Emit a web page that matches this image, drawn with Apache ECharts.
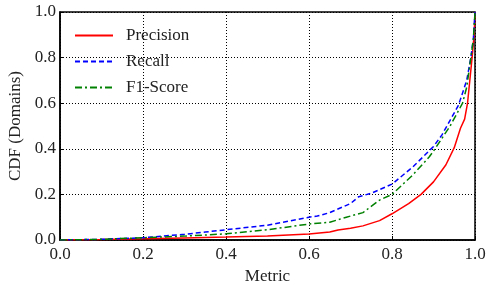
<!DOCTYPE html>
<html><head><meta charset="utf-8">
<script src="https://cdn.jsdelivr.net/npm/echarts@6/dist/echarts.min.js"></script>
<style>html,body{margin:0;padding:0;background:#fff}#c{width:486px;height:285px}</style>
</head><body><div id="c"></div>
<script>
const seriesNames = ['Precision', 'Recall', 'F1-Score'];
const precision = [[0,0],[0.1,0.002],[0.2,0.005],[0.3,0.009],[0.4,0.013],[0.5,0.018],[0.6,0.026],[0.65,0.035],[0.67,0.044],[0.7,0.052],[0.73,0.062],[0.77,0.085],[0.8,0.115],[0.84,0.16],[0.87,0.2],[0.9,0.255],[0.93,0.33],[0.95,0.405],[0.965,0.49],[0.975,0.53],[0.982,0.6],[0.993,0.8],[0.998,0.9],[1.0,1.0]];
const recall = [[0,0],[0.1,0.003],[0.2,0.01],[0.3,0.025],[0.35,0.035],[0.4,0.045],[0.5,0.065],[0.6,0.10],[0.62,0.105],[0.65,0.12],[0.7,0.16],[0.72,0.19],[0.75,0.205],[0.8,0.245],[0.85,0.32],[0.9,0.41],[0.92,0.46],[0.94,0.525],[0.96,0.59],[0.98,0.7],[0.99,0.8],[0.996,0.88],[1.0,1.0]];
const f1 = [[0,0],[0.1,0.003],[0.2,0.01],[0.3,0.017],[0.4,0.027],[0.5,0.045],[0.6,0.07],[0.65,0.078],[0.69,0.10],[0.73,0.12],[0.77,0.175],[0.8,0.2],[0.85,0.285],[0.89,0.365],[0.9,0.39],[0.94,0.5],[0.97,0.6],[0.98,0.67],[0.99,0.8],[0.996,0.88],[1.0,1.0]];
const xTicks = [0, 0.2, 0.4, 0.6, 0.8, 1.0];
const yTicks = [0, 0.2, 0.4, 0.6, 0.8, 1.0];

const font = 'Liberation Serif';
const chart = echarts.init(document.getElementById('c'), null, {renderer:'canvas'});
const axisCommon = {
  min: 0, max: 1, interval: 0.2,
  axisLine: {show: true, onZero: false, lineStyle: {color: '#000', width: 1.5}},
  axisTick: {show: true, inside: true, length: 4, lineStyle: {color: '#000'}},
  splitLine: {show: true, lineStyle: {color: '#000', type: [1, 2], width: 1}},
  axisLabel: {color: '#222', fontFamily: font, fontSize: 17, formatter: v => v.toFixed(1)},
  nameTextStyle: {color: '#222', fontFamily: font, fontSize: 17}
};
chart.setOption({
  animation: false,
  backgroundColor: '#fff',
  grid: {left: 60, right: 11, top: 12, bottom: 45, containLabel: false, outerBoundsMode: 'none',
         show: true, borderColor: '#000', borderWidth: 1.5},
  legend: {
    left: 69, top: 22, orient: 'vertical', itemGap: 9, itemWidth: 38, itemHeight: 16,
    itemStyle: {opacity: 0},
    textStyle: {fontFamily: font, fontSize: 17, color: '#222', padding: [0,0,0,8]},
    data: seriesNames
  },
  xAxis: Object.assign({}, axisCommon, {type: 'value', name: 'Metric', nameLocation: 'middle', nameGap: 24,
    axisLabel: Object.assign({}, axisCommon.axisLabel, {margin: 6, formatter: v => xTicks.includes(+v.toFixed(1)) ? v.toFixed(1) : ''})}),
  yAxis: Object.assign({}, axisCommon, {type: 'value', name: 'CDF (Domains)', nameLocation: 'middle', nameGap: 31,
    axisLabel: Object.assign({}, axisCommon.axisLabel, {margin: 4, formatter: v => yTicks.includes(+v.toFixed(1)) ? v.toFixed(1) : ''})}),
  series: [
    {name: seriesNames[0], type: 'line', data: precision, symbol: 'none', smooth: false,
     lineStyle: {color: '#ff0000', width: 1.5, type: 'solid'}, itemStyle: {color: '#ff0000'}},
    {name: seriesNames[1], type: 'line', data: recall, symbol: 'none',
     lineStyle: {color: '#0000ff', width: 1.5, type: [5, 3]}, itemStyle: {color: '#0000ff'}},
    {name: seriesNames[2], type: 'line', data: f1, symbol: 'none',
     lineStyle: {color: '#008000', width: 1.5, type: [7, 3, 2, 3]}, itemStyle: {color: '#008000'}}
  ]
});
</script></body></html>
